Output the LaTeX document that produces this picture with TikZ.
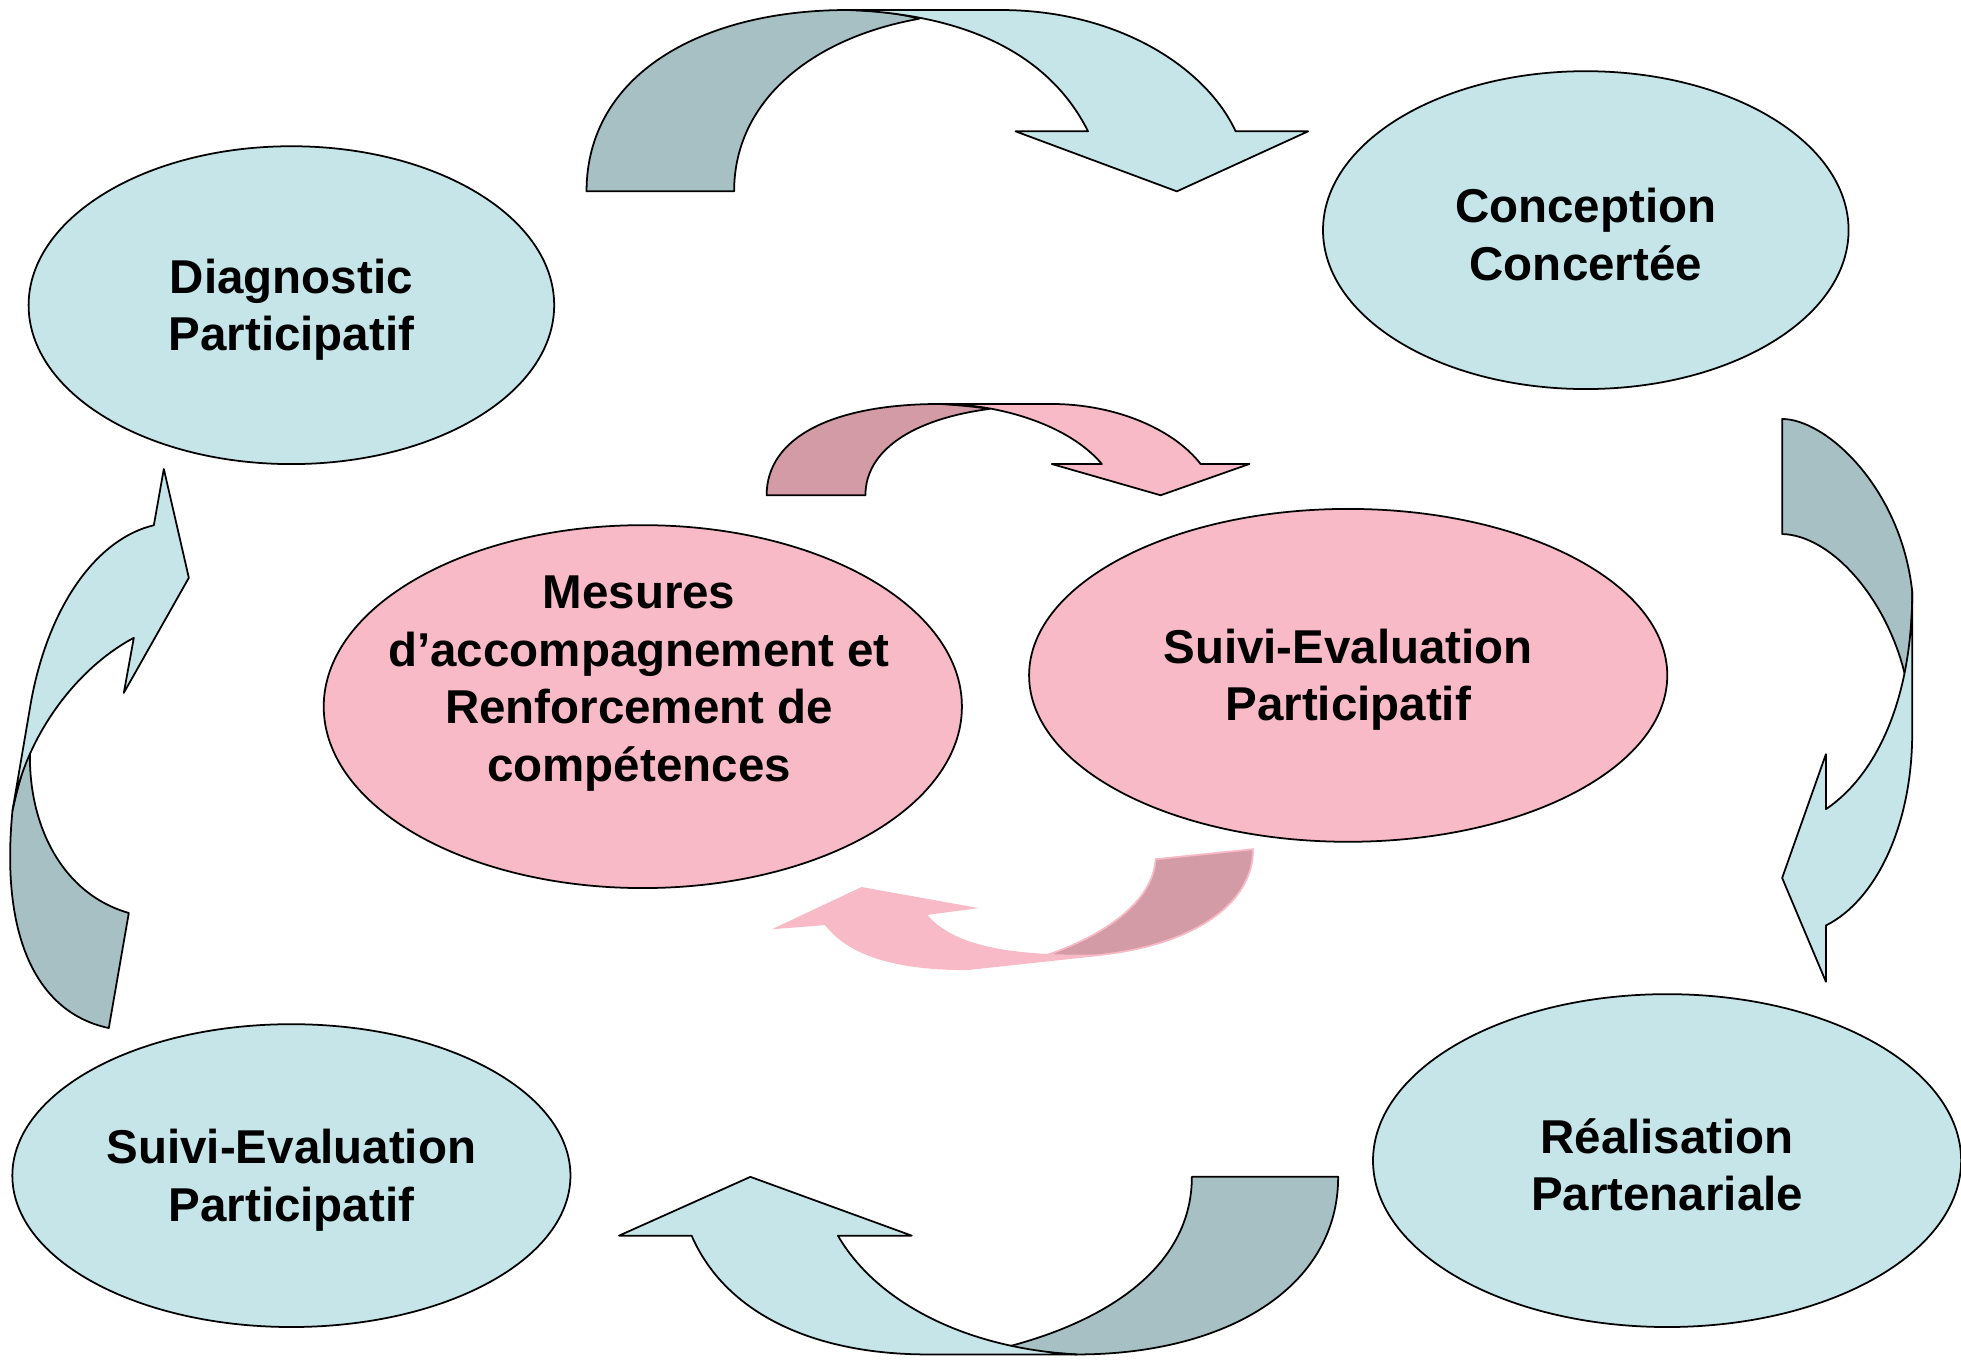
\documentclass[tikz,border=0pt]{standalone}
\usepackage{fontspec}
\setmainfont{Liberation Sans}
\usetikzlibrary{shapes.geometric}

\definecolor{paleblue}{RGB}{198,229,233}
\definecolor{greyblue}{RGB}{167,192,196}
\definecolor{palepink}{RGB}{247,186,198}
\definecolor{dustypink}{RGB}{211,155,166}

\begin{document}
\begin{tikzpicture}[x=0.01cm,y=-0.01cm,
  bubble/.style={ellipse,draw=black,thin,inner sep=0pt},
  caption/.style={align=center,yshift=-0.035cm,font=\bfseries\fontsize{10.8}{13.1}\selectfont},
  band/.style={draw=black,thin,line join=round}]
\useasboundingbox (0,0) rectangle (1568,1087);

% outer cycle
\node[bubble,fill=paleblue,minimum width=4.2cm,minimum height=2.54cm] (diag) at (233,244) {};
\node[bubble,fill=paleblue,minimum width=4.2cm,minimum height=2.54cm] (conc) at (1268,184) {};
\node[bubble,fill=paleblue,minimum width=4.7cm,minimum height=2.66cm] (real) at (1333,928) {};
\node[bubble,fill=paleblue,minimum width=4.46cm,minimum height=2.42cm] (suivibas) at (233,940) {};
% inner pair
\node[bubble,fill=palepink,minimum width=5.1cm,minimum height=2.9cm] (mesures) at (514,565) {};
\node[bubble,fill=palepink,minimum width=5.1cm,minimum height=2.66cm] (suivimid) at (1078,540) {};

\node[caption] (diagtxt) at (diag) {Diagnostic\\Participatif};
\node[caption] (conctxt) at (conc) {Conception\\Concertée};
\node[caption] (realtxt) at (real) {Réalisation\\Partenariale};
\node[caption] (suivibastxt) at (suivibas) {Suivi-Evaluation\\Participatif};
\node[caption] (mesurestxt) at (511,543) {Mesures\\d’accompagnement et\\Renforcement de\\compétences};
\node[caption] (suivimidtxt) at (suivimid) {Suivi-Evaluation\\Participatif};

% top arrow
\draw[band,fill=greyblue] (469,153) .. controls (469,60) and (560,8) .. (678,8) .. controls (700,8) and (720,11) .. (735,15) .. controls (650,30) and (587,80) .. (587,153) -- cycle;
\draw[band,fill=paleblue] (678,8) -- (800,8) .. controls (895,8) and (965,55) .. (988,105) -- (1046,105) -- (941,153) -- (812,105) -- (870,105) .. controls (845,55) and (790,12) .. (678,8) -- cycle;

% right arrow
\draw[band,fill=greyblue] (1425,335) .. controls (1460,335) and (1520,390) .. (1529,473) .. controls (1529,500) and (1527,520) .. (1524,543) .. controls (1510,480) and (1465,428) .. (1425,427) -- cycle;
\draw[band,fill=paleblue] (1529,473) -- (1529,586) .. controls (1529,660) and (1500,720) .. (1460,740) -- (1460,785) -- (1425,702) -- (1460,603) -- (1460,647) .. controls (1500,620) and (1529,560) .. (1529,473) -- cycle;

% bottom arrow
\draw[band,fill=greyblue] (1070,941) .. controls (1070,1030) and (980,1083) .. (861,1083) .. controls (840,1082) and (822,1080) .. (805,1077) .. controls (890,1055) and (953,1010) .. (953,941) -- cycle;
\draw[band,fill=paleblue] (742,1083) -- (861,1083) .. controls (770,1078) and (700,1040) .. (670,988) -- (729,988) -- (600,941) -- (495,988) -- (553,988) .. controls (580,1050) and (650,1083) .. (742,1083) -- cycle;

% left arrow
\draw[band,fill=greyblue] (87,822) .. controls (30,810) and (0,750) .. (10,648) .. controls (14,630) and (19,612) .. (24,599) .. controls (22,660) and (50,715) .. (103,730) -- cycle;
\draw[band,fill=paleblue] (10,648) -- (25,560) .. controls (40,480) and (80,430) .. (123,420) -- (131,375) -- (151,462) -- (99,554) -- (107,510) .. controls (60,535) and (20,590) .. (10,648) -- cycle;

% inner arrows
\draw[band,fill=dustypink] (613,396) .. controls (613,350) and (665,323) .. (752,323) .. controls (766,324) and (779,325) .. (791,327) .. controls (730,335) and (692,360) .. (692,396) -- cycle;
\draw[band,fill=palepink] (752,323) -- (840,323) .. controls (895,323) and (940,345) .. (960,371) -- (999,371) -- (928,396) -- (841,371) -- (881,371) .. controls (855,340) and (800,323) .. (752,323) -- cycle;
\draw[draw=palepink,fill=dustypink] (1002,679) .. controls (1002,725) and (950,757) .. (875,764) -- (833,765) .. controls (885,748) and (922,720) .. (924,687) -- cycle;
\draw[draw=palepink,fill=palepink] (875,764) -- (773,775) .. controls (720,775) and (680,765) .. (660,739) -- (621,742) -- (689,710) -- (778,726) -- (740,731) .. controls (760,755) and (800,765) .. (875,764) -- cycle;

\end{tikzpicture}
\end{document}
